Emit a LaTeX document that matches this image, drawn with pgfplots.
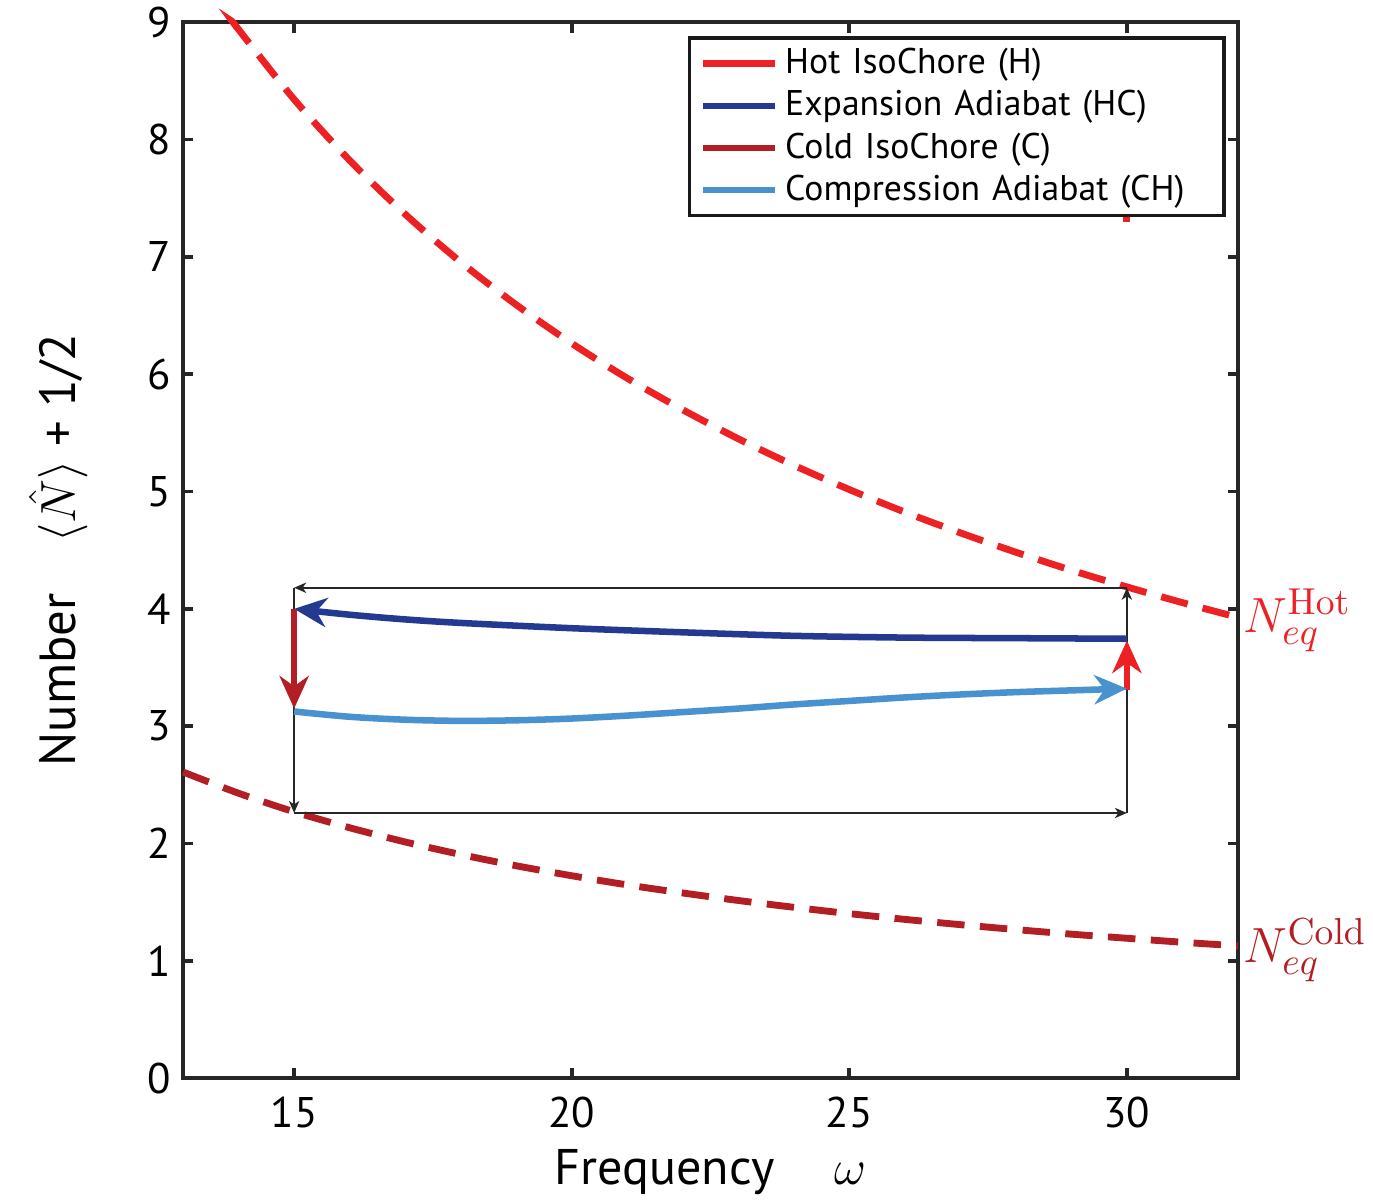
\documentclass[border=0pt]{standalone}
\usepackage[no-math]{fontspec}
\setmainfont{PT Sans}
\usepackage{pgfplots}
\pgfplotsset{compat=1.18}
\usetikzlibrary{arrows.meta}

\definecolor{hotred}{RGB}{237,32,36}
\definecolor{expblue}{RGB}{36,58,145}
\definecolor{coldred}{RGB}{178,30,35}
\definecolor{compblue}{RGB}{72,146,208}

\tikzset{
  bighead/.style={-{Stealth[length=9.5pt,width=8.5pt,inset=3pt]}},
  smallhead/.style={-{Stealth[length=3.5pt,width=3pt,inset=1pt]}},
}

\begin{document}
\begin{tikzpicture}
\path[use as bounding box] (-53.4pt,-35.3pt) rectangle (347pt,314.4pt);
\begin{axis}[
  scale only axis, width=307.6pt, height=307.9pt,
  xmin=13, xmax=32, ymin=0, ymax=9,
  xtick={15,20,25,30}, ytick={0,1,...,9},
  tick align=inside, major tick length=3pt,
  tick style={line width=1.1pt, black!85},
  axis line style={line width=1.2pt, black!85},
  /pgf/number format/assume math mode=true,
  tick label style={font=\fontsize{12.5}{15}\selectfont},
  xticklabel style={yshift=-2pt},
  xlabel={Frequency\hspace{1.2em}$\omega$},
  ylabel={Number\hspace{1em}$\langle\hat{N}\rangle$ + 1/2},
  every axis x label/.style={at={(axis description cs:0.5,-0.101)}, anchor=base,
    font=\fontsize{14.6}{17}\selectfont},
  every axis y label/.style={at={(axis description cs:-0.118,0.5)}, rotate=90, anchor=center,
    font=\fontsize{14.8}{17}\selectfont},
  clip=false,
  legend style={at={(0.9886,0.9867)}, anchor=north east, draw=black!90,
    line width=1pt, fill=white, font=\fontsize{10.4}{12.5}\selectfont,
    row sep=-0.6pt, inner xsep=3pt, inner ysep=1pt,
    /tikz/every even column/.append style={text width=123pt}},
  legend cell align=left,
  legend image code/.code={\draw[#1,arrows=-] (0pt,0pt) -- (21pt,0pt);},
]

% equilibrium curves
\addplot[hotred, line width=2pt, dash pattern=on 8pt off 4.5pt, smooth, forget plot] coordinates {
 (13.9,9.002)(14,8.938)(15,8.343)(16,7.823)(17,7.364)(18,6.956)(19,6.592)(20,6.263)
 (21,5.966)(22,5.697)(23,5.450)(24,5.224)(25,5.017)(26,4.825)(27,4.648)(28,4.483)
 (29,4.329)(30,4.187)(31,4.053)(32,3.927)};
\addplot[coldred, line width=2pt, dash pattern=on 8pt off 4.5pt, smooth, forget plot] coordinates {
 (13,2.609)(14,2.428)(15,2.270)(16,2.134)(17,2.013)(18,1.906)(19,1.810)(20,1.725)
 (21,1.647)(22,1.578)(23,1.514)(24,1.456)(25,1.402)(26,1.353)(27,1.308)(28,1.266)
 (29,1.227)(30,1.192)(31,1.158)(32,1.127)};

% thin cycle frame
\addplot[black!85, line width=0.45pt, smallhead, forget plot] coordinates {(15,2.26)(30,2.26)};
\addplot[black!85, line width=0.45pt, smallhead, forget plot] coordinates {(30,2.26)(30,4.18)};
\addplot[black!85, line width=0.45pt, smallhead, forget plot] coordinates {(30,4.18)(15,4.18)};
\addplot[black!85, line width=0.45pt, smallhead, forget plot] coordinates {(15,4.18)(15,2.26)};

% stray mark under legend
\addplot[hotred, line width=2pt, forget plot] coordinates {(30,7.30)(30,7.38)};

% cycle strokes
\addplot[hotred, line width=1.9pt, bighead] coordinates {(30,3.31)(30,3.73)};
\addplot[expblue, line width=1.9pt, smooth, bighead] coordinates {
 (30,3.745)(28,3.75)(26,3.755)(24,3.77)(22,3.80)(20,3.835)(18,3.88)(17,3.91)(16,3.95)(15,4.0)};
\addplot[coldred, line width=1.9pt, bighead] coordinates {(15,4.0)(15,3.15)};
\addplot[compblue, line width=1.9pt, smooth, bighead] coordinates {
 (15,3.125)(16,3.08)(17,3.055)(18,3.045)(19,3.05)(20,3.065)(21,3.09)(22,3.12)(23,3.15)
 (24,3.185)(25,3.215)(26,3.245)(27,3.27)(28,3.29)(29,3.305)(30,3.32)};

\legend{Hot IsoChore (H), Expansion Adiabat (HC), Cold IsoChore (C), Compression Adiabat (CH)}

\node[anchor=west, inner sep=1pt, xshift=0.5pt, text=hotred, font=\fontsize{15}{18}\selectfont]
  at (axis cs:32,3.9) {$N_{eq}^{\mathrm{Hot}}$};
\node[anchor=west, inner sep=1pt, xshift=0.5pt, text=coldred, font=\fontsize{15}{18}\selectfont]
  at (axis cs:32,1.09) {$N_{eq}^{\mathrm{Cold}}$};
\end{axis}
\end{tikzpicture}
\end{document}
